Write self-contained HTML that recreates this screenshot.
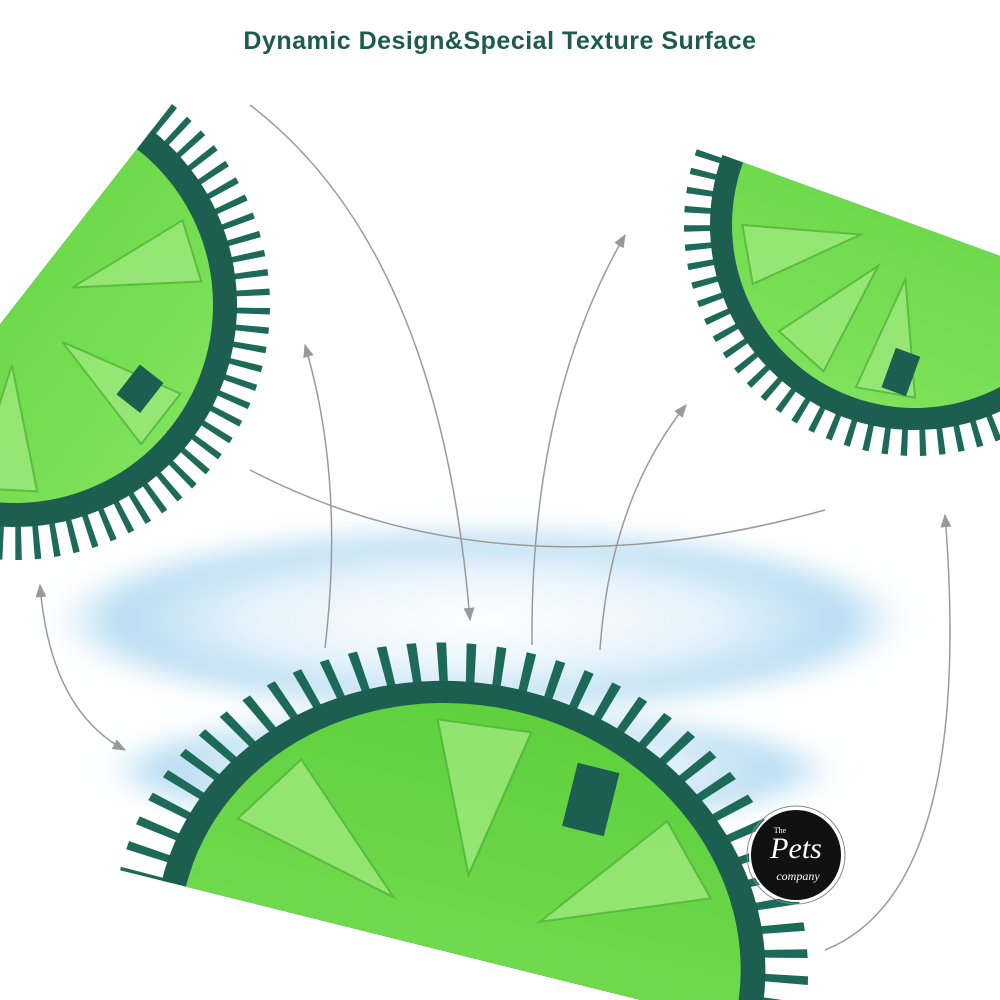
<!DOCTYPE html>
<html><head><meta charset="utf-8"><style>
html,body{margin:0;padding:0;background:#fff;width:1000px;height:1000px;overflow:hidden}
svg{display:block}
</style></head><body>
<svg width="1000" height="1000" viewBox="0 0 1000 1000" xmlns="http://www.w3.org/2000/svg">
<defs>
<filter id="blur" x="-20%" y="-50%" width="140%" height="200%"><feGaussianBlur stdDeviation="12"/></filter>
<radialGradient id="glow" cx="50%" cy="50%" r="50%">
<stop offset="0" stop-color="#ffffff"/><stop offset="0.55" stop-color="#e6f3fb"/><stop offset="0.85" stop-color="#b7dcf2"/><stop offset="1" stop-color="#c9e6f7" stop-opacity="0"/>
</radialGradient>
<linearGradient id="gr" x1="0" y1="0" x2="0" y2="1"><stop offset="0" stop-color="#5fd03e"/><stop offset="1" stop-color="#7ee25a"/></linearGradient>
<clipPath id="half"><rect x="-400" y="0" width="800" height="400"/></clipPath>
<clipPath id="halfU"><rect x="-400" y="-400" width="800" height="400"/></clipPath>
<marker id="ah" viewBox="0 0 10 10" refX="9" refY="5" markerWidth="9" markerHeight="9" orient="auto-start-reverse"><path d="M0,1 L10,5 L0,9 z" fill="#999"/></marker>
</defs>

<text x="500" y="49" text-anchor="middle" font-family="Liberation Sans, sans-serif" font-size="25" font-weight="bold" fill="#1d5c4c" letter-spacing="0.5">Dynamic Design&amp;Special Texture Surface</text>

<ellipse cx="480" cy="620" rx="430" ry="95" fill="url(#glow)" filter="url(#blur)"/>
<ellipse cx="470" cy="770" rx="370" ry="60" fill="url(#glow)" filter="url(#blur)"/>

<!-- top-left slice -->
<g transform="translate(15,305) rotate(-52)">
<g clip-path="url(#half)">
<circle r="235" fill="none" stroke="#1d6a58" stroke-width="40" stroke-dasharray="6 12"/>
<circle r="222" fill="#1c5e4f"/>
<circle r="198" fill="url(#gr)"/>
<g fill="#9be87a" stroke="#56b83c" stroke-width="2" opacity="0.85">
<g transform="rotate(35)"><polygon points="60,0 185,-32 185,32"/></g>
<g transform="rotate(90)"><polygon points="60,0 185,-32 185,32"/></g>
<g transform="rotate(145)"><polygon points="60,0 185,-32 185,32"/></g>
</g>
<rect x="-8" y="135" width="38" height="30" fill="#1c5e4f"/>
</g></g>

<!-- top-right slice -->
<g transform="translate(915,225) rotate(20)">
<g clip-path="url(#half)">
<circle r="215" fill="none" stroke="#1d6a58" stroke-width="32" stroke-dasharray="6 12"/>
<circle r="205" fill="#1c5e4f"/>
<circle r="183" fill="url(#gr)"/>
<g fill="#9be87a" stroke="#56b83c" stroke-width="2" opacity="0.85">
<g transform="rotate(150)"><polygon points="55,0 170,-30 170,30"/></g>
<g transform="rotate(112)"><polygon points="55,0 170,-30 170,30"/></g>
<g transform="rotate(80)"><polygon points="55,0 170,-30 170,30"/></g>
</g>
<rect x="24" y="122" width="26" height="42" fill="#1c5e4f"/>
</g></g>

<!-- bottom slice -->
<g transform="translate(460,955) rotate(14) scale(1.13,1)">
<g clip-path="url(#halfU)">
<circle r="288" fill="none" stroke="#1d6a58" stroke-width="44" stroke-dasharray="8 17"/>
<circle r="272" fill="#1c5e4f"/>
<circle r="250" fill="url(#gr)"/>
<g fill="#9be87a" stroke="#56b83c" stroke-width="2" opacity="0.85">
<g transform="rotate(-150)"><polygon points="80,0 230,-42 230,42"/></g>
<g transform="rotate(-97)"><polygon points="80,0 230,-42 230,42"/></g>
<g transform="rotate(-40)"><polygon points="80,0 230,-42 230,42"/></g>
</g>
<rect x="60" y="-215" width="38" height="65" fill="#1c5e4f"/>
</g></g>

<!-- arrows -->
<g fill="none" stroke="#9a9a9a" stroke-width="1.5">
<path d="M250,105 Q440,250 470,620" marker-end="url(#ah)"/>
<path d="M305,345 Q345,480 325,648" marker-start="url(#ah)"/>
<path d="M625,235 Q530,400 532,645" marker-start="url(#ah)"/>
<path d="M686,405 Q610,500 600,650" marker-start="url(#ah)"/>
<path d="M250,470 Q500,600 825,510"/>
<path d="M40,585 Q50,710 125,750" marker-start="url(#ah)" marker-end="url(#ah)"/>
<path d="M945,515 Q975,890 825,950" marker-start="url(#ah)"/>
</g>

<!-- logo -->
<circle cx="796" cy="855" r="46" fill="#111" stroke="#fff" stroke-width="2"/>
<circle cx="796" cy="855" r="49" fill="none" stroke="#888" stroke-width="1"/>
<text x="796" y="858" text-anchor="middle" font-family="Liberation Serif, serif" font-style="italic" font-size="30" fill="#fff">Pets</text>
<text x="798" y="880" text-anchor="middle" font-family="Liberation Serif, serif" font-style="italic" font-size="12" fill="#fff">company</text>
<text x="780" y="833" text-anchor="middle" font-family="Liberation Serif, serif" font-size="8" fill="#fff">The</text>
</svg>
</body></html>
